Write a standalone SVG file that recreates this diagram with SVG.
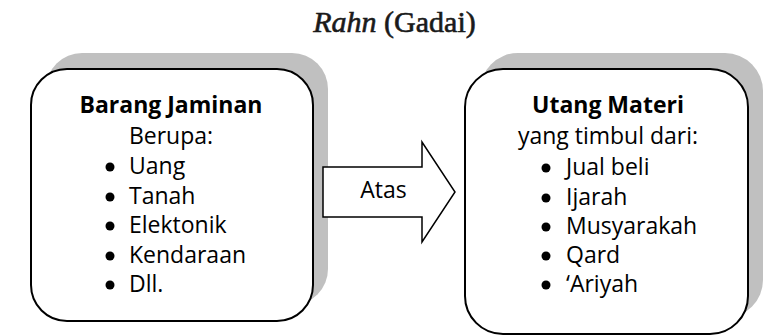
<svg xmlns="http://www.w3.org/2000/svg" width="765" height="335" viewBox="0 0 765 335">
  <style>
    .shadow { fill: #c0c0c0; stroke: none; }
    .box { fill: #ffffff; stroke: #000000; stroke-width: 2; }
    .arrow { fill: #ffffff; stroke: #000000; stroke-width: 1.5; stroke-linejoin: miter; }
    .t { font-family: "Open Sans", "Liberation Sans", sans-serif; font-size: 23px; fill: #000000; }
    .head { font-weight: bold; text-anchor: middle; }
    .mid { text-anchor: middle; }
    .dot { fill: #000000; }
    .title { font-family: "Liberation Serif", "DejaVu Serif", serif; font-size: 30px; fill: #1a1a1a; stroke: #1a1a1a; stroke-width: 0.6; text-anchor: middle; }
  </style>

  <!-- heading -->
  <text class="title" x="394.5" y="32"><tspan font-style="italic">Rahn</tspan> (Gadai)</text>

  <!-- collateral box -->
  <g id="barang-jaminan">
    <rect class="shadow" x="46" y="53" width="282" height="252" rx="36" ry="36"/>
    <rect class="box" x="31" y="69" width="282" height="252" rx="36" ry="36"/>
    <text class="t head" x="171" y="112.5">Barang Jaminan</text>
    <text class="t mid" x="171" y="144">Berupa:</text>
    <g>
      <circle class="dot" cx="110" cy="167" r="4.5"/>
      <circle class="dot" cx="110" cy="197" r="4.5"/>
      <circle class="dot" cx="110" cy="226" r="4.5"/>
      <circle class="dot" cx="110" cy="256" r="4.5"/>
      <circle class="dot" cx="110" cy="285" r="4.5"/>
      <text class="t" x="129" y="174">Uang</text>
      <text class="t" x="129" y="204">Tanah</text>
      <text class="t" x="129" y="233">Elektonik</text>
      <text class="t" x="129" y="263">Kendaraan</text>
      <text class="t" x="129" y="292">Dll.</text>
    </g>
  </g>

  <!-- debt box -->
  <g id="utang-materi">
    <rect class="shadow" x="480" y="53" width="283" height="265" rx="38" ry="38"/>
    <rect class="box" x="465" y="69" width="283" height="265" rx="38" ry="38"/>
    <text class="t head" x="608" y="112.5">Utang Materi</text>
    <text class="t mid" x="608" y="144">yang timbul dari:</text>
    <g>
      <circle class="dot" cx="546" cy="168" r="4.5"/>
      <circle class="dot" cx="546" cy="198" r="4.5"/>
      <circle class="dot" cx="546" cy="227" r="4.5"/>
      <circle class="dot" cx="546" cy="256" r="4.5"/>
      <circle class="dot" cx="546" cy="285" r="4.5"/>
      <text class="t" x="566" y="175">Jual beli</text>
      <text class="t" x="566" y="205">Ijarah</text>
      <text class="t" x="566" y="234">Musyarakah</text>
      <text class="t" x="566" y="263">Qard</text>
      <text class="t" x="566" y="292">‘Ariyah</text>
    </g>
  </g>

  <!-- connector: block arrow -->
  <g id="connectors">
    <g id="atas">
      <polygon class="arrow" points="323,167 422,167 422,142 455,192 422,242 422,217 323,217"/>
      <text class="t mid" x="383.5" y="198">Atas</text>
    </g>
  </g>
</svg>
